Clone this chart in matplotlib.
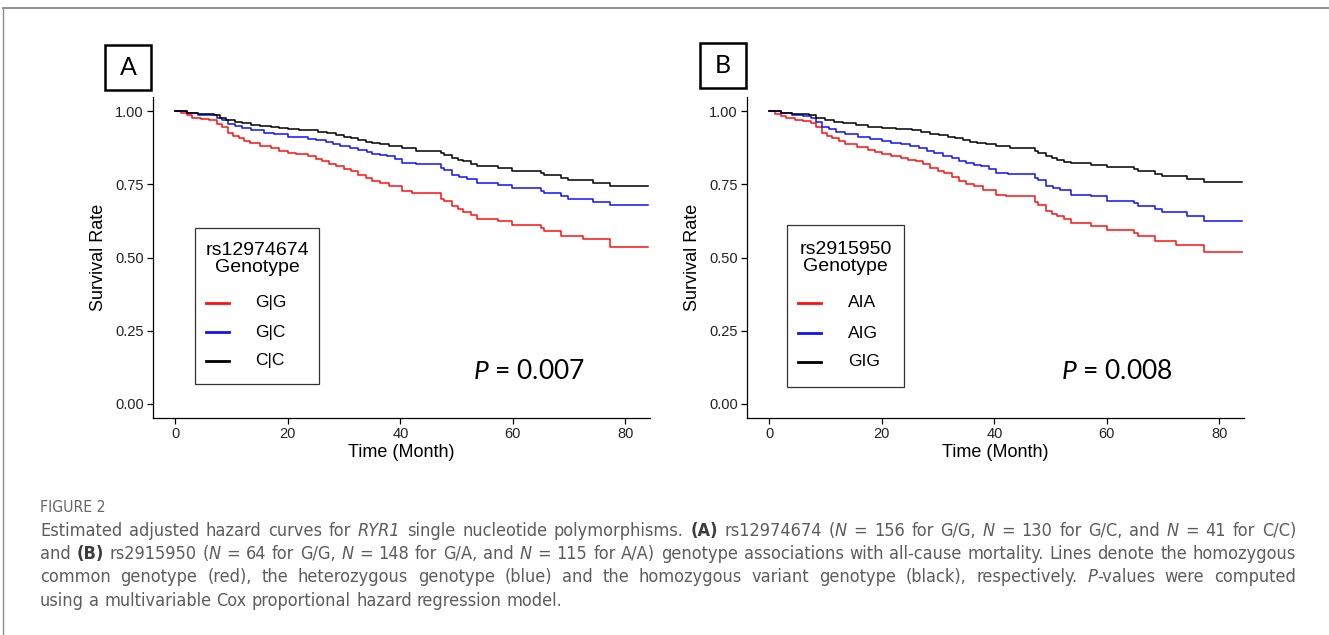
import re

import matplotlib
matplotlib.use('Agg')
import matplotlib.pyplot as plt
from matplotlib import font_manager as fm
from matplotlib.lines import Line2D
from matplotlib.patches import Rectangle

W, H = 1329, 635

# ---- data (months, adjusted survival) ----
a_red_t = [0, 1, 2, 3, 4.5, 6, 7.4, 8.2, 9.3, 10.3, 11.3, 12.2, 13.2, 15, 17, 18.5, 20, 21.5, 23.5, 25,
           26, 27.3, 28.6, 30, 31.2, 32.5, 33.8, 35, 36.4, 38, 40.2, 42, 47.3, 47.8, 49.2, 50.2, 51.2, 52.5,
           53.7, 57.3, 59.8, 65, 65.6, 68.5, 72.4, 77.2, 84]
a_red_s = [1.000, 0.992, 0.985, 0.978, 0.972, 0.968, 0.955, 0.945, 0.925, 0.915, 0.907, 0.898, 0.890, 0.882,
           0.873, 0.865, 0.858, 0.852, 0.845, 0.838, 0.831, 0.820, 0.811, 0.803, 0.794, 0.782, 0.771, 0.762,
           0.754, 0.745, 0.726, 0.720, 0.700, 0.692, 0.675, 0.665, 0.655, 0.645, 0.632, 0.624, 0.612, 0.600,
           0.590, 0.573, 0.563, 0.536, 0.536]
a_blue_t = [0, 2, 4, 6, 7.4, 8.2, 9.3, 10.5, 11.9, 13.5, 15.8, 17.5, 20, 21.5, 23.5, 25, 26.7, 28, 29.3, 31,
            32.5, 34, 35, 36.4, 37.6, 39, 40.2, 42.8, 47.3, 47.8, 49.2, 50.5, 51.8, 53.7, 57.3, 59.8, 65, 65.6,
            68.5, 69.8, 74.3, 77.2, 84]
a_blue_s = [1.000, 0.994, 0.988, 0.985, 0.978, 0.968, 0.955, 0.948, 0.941, 0.934, 0.926, 0.920, 0.913, 0.910,
            0.906, 0.901, 0.896, 0.888, 0.881, 0.874, 0.867, 0.860, 0.853, 0.849, 0.845, 0.835, 0.824, 0.820,
            0.806, 0.799, 0.782, 0.775, 0.768, 0.754, 0.746, 0.737, 0.728, 0.720, 0.711, 0.700, 0.689, 0.678,
            0.678]
a_black_t = [0, 2, 4, 6.8, 8, 9, 10.5, 11.9, 13.5, 15, 17, 18.5, 20, 22, 25.4, 27, 28.6, 30, 31.2, 32.5,
             33.8, 35, 36.4, 38, 40.2, 42.8, 47.3, 47.8, 49.2, 50.2, 51.2, 52.5, 53.7, 57.3, 59.8, 65, 65.6,
             68.5, 69.8, 74.3, 77.2, 84]
a_black_s = [1.000, 0.995, 0.990, 0.986, 0.978, 0.969, 0.963, 0.958, 0.952, 0.948, 0.944, 0.941, 0.939, 0.935,
             0.930, 0.924, 0.918, 0.912, 0.907, 0.901, 0.896, 0.891, 0.887, 0.880, 0.873, 0.865, 0.856, 0.850,
             0.839, 0.834, 0.828, 0.820, 0.811, 0.804, 0.796, 0.789, 0.782, 0.773, 0.763, 0.754, 0.743, 0.743]

b_red_t = [0, 1, 2, 3, 4.5, 6, 7.3, 8.2, 9.3, 10.3, 11.2, 12.3, 13.4, 15.5, 17.6, 18.8, 20, 21.7, 23.4, 24.7,
           26, 27.3, 28.6, 29.9, 31.1, 32.4, 33.7, 35, 36.3, 38, 40.2, 42.1, 47.2, 47.8, 49.2, 50.2, 51.1, 52.4,
           53.7, 57.2, 60.1, 64.9, 65.6, 68.5, 72.3, 77.2, 84]
b_red_s = [1.000, 0.991, 0.984, 0.976, 0.970, 0.965, 0.958, 0.945, 0.924, 0.915, 0.907, 0.897, 0.887, 0.877,
           0.867, 0.860, 0.854, 0.846, 0.839, 0.833, 0.828, 0.818, 0.807, 0.797, 0.788, 0.774, 0.760, 0.751,
           0.743, 0.730, 0.714, 0.709, 0.690, 0.680, 0.658, 0.650, 0.641, 0.630, 0.618, 0.609, 0.595, 0.584,
           0.573, 0.556, 0.544, 0.519, 0.519]
b_blue_t = [0, 2, 4, 6, 7.3, 8.2, 9.3, 10.5, 11.8, 13.5, 15.7, 17.8, 20, 21.7, 23.4, 25, 26.6, 28, 29.2, 30.8,
            32.4, 33.7, 35, 36.3, 37.6, 39, 40.2, 42.4, 47.2, 47.8, 49.2, 50.5, 51.7, 53.7, 57.2, 60.1, 64.9,
            65.6, 68.5, 69.8, 74.3, 77.2, 84]
b_blue_s = [1.000, 0.993, 0.987, 0.983, 0.975, 0.962, 0.946, 0.938, 0.930, 0.921, 0.913, 0.905, 0.898, 0.892,
            0.887, 0.880, 0.873, 0.864, 0.856, 0.848, 0.839, 0.830, 0.822, 0.817, 0.813, 0.802, 0.790, 0.785,
            0.772, 0.765, 0.745, 0.737, 0.729, 0.714, 0.709, 0.694, 0.685, 0.677, 0.667, 0.654, 0.641, 0.626,
            0.626]
b_black_t = [0, 2, 4, 7, 8.2, 9.9, 11.5, 13.1, 15.3, 17.6, 20, 22.5, 25.4, 27, 28.6, 30.2, 31.8, 33, 34.4,
             35.6, 36.9, 38.5, 40.2, 42.7, 47.2, 47.8, 49.2, 50.2, 51.1, 52.4, 53.7, 57.2, 60.1, 64.9, 65.6,
             68.5, 69.8, 74.3, 77.2, 84]
b_black_s = [1.000, 0.995, 0.991, 0.987, 0.978, 0.969, 0.963, 0.958, 0.952, 0.946, 0.941, 0.938, 0.935, 0.929,
             0.922, 0.917, 0.913, 0.907, 0.901, 0.896, 0.890, 0.886, 0.881, 0.873, 0.862, 0.856, 0.845, 0.839,
             0.833, 0.827, 0.822, 0.816, 0.808, 0.801, 0.794, 0.786, 0.777, 0.768, 0.757, 0.757]

colors = ['#ff1010', '#1010ff', 'black']
a_labels = ['G|G', 'G|C', 'C|C']
b_labels = ['AIA', 'AIG', 'GIG']
x_ticks = [0, 20, 40, 60, 80]
y_ticks = [0.00, 0.25, 0.50, 0.75, 1.00]

caption_head = 'FIGURE 2'
caption_lines = [
    'Estimated adjusted hazard curves for *RYR1* single nucleotide polymorphisms. **(A)** rs12974674 '
    '(*N* = 156 for G/G, *N* = 130 for G/C, and *N* = 41 for C/C)',
    'and **(B)** rs2915950 (*N* = 64 for G/G, *N* = 148 for G/A, and *N* = 115 for A/A) genotype '
    'associations with all-cause mortality. Lines denote the homozygous',
    'common genotype (red), the heterozygous genotype (blue) and the homozygous variant genotype (black), '
    'respectively. *P*-values were computed',
    'using a multivariable Cox proportional hazard regression model.',
]

plt.rcParams['font.family'] = ['Liberation Sans', 'DejaVu Sans']
plt.rcParams['mathtext.fontset'] = 'custom'
plt.rcParams['mathtext.it'] = 'Lato:italic'
plt.rcParams['mathtext.rm'] = 'Lato'


def fx(x):
    return x / W


def fy(y):
    return 1 - y / H


fig = plt.figure(figsize=(W / 100, H / 100), dpi=100)
tr = fig.transFigure

# page frame (top and left rule)
fig.add_artist(Line2D([fx(3), 1.0], [fy(8), fy(8)], transform=tr, color='#8a8a8a', lw=1.3))
fig.add_artist(Line2D([fx(3), fx(3)], [fy(8), 0.0], transform=tr, color='#8a8a8a', lw=1.0))


def panel(left, series, letter, leg_title, labels, pval, geo):
    ax = fig.add_axes([fx(left), fy(418), 497 / W, 321 / H])
    for (t, s), c in zip(series, colors):
        ax.step(t, s, where='post', color=c, lw=1.1)
    ax.set_xlim(-4.0, 84.4)
    ax.set_ylim(-0.048, 1.048)
    ax.set_xticks(x_ticks)
    ax.set_yticks(y_ticks)
    ax.set_yticklabels([f'{v:.2f}' for v in y_ticks])
    for sp in ['top', 'right']:
        ax.spines[sp].set_visible(False)
    for sp in ['left', 'bottom']:
        ax.spines[sp].set_linewidth(0.9)
    ax.tick_params(length=4, width=0.9, labelsize=10.5, labelcolor='#222222', pad=2.5)
    ax.set_xlabel('Time (Month)', fontsize=13, labelpad=2)
    ax.set_ylabel('Survival Rate', fontsize=13, labelpad=6)

    # panel letter box
    bx0, by0, bx1, by1 = geo['letter_box']
    fig.add_artist(Rectangle((fx(bx0), fy(by1)), (bx1 - bx0) / W, (by1 - by0) / H,
                             transform=tr, fill=False, lw=1.8, ec='black'))
    fig.text(fx((bx0 + bx1) / 2), fy((by0 + by1) / 2), letter, transform=tr, ha='center',
             va='center', fontsize=18, family='Lato')

    # legend drawn by hand to mimic the ggplot key
    lx0, ly0, lx1, ly1 = geo['legend_box']
    fig.add_artist(Rectangle((fx(lx0), fy(ly1)), (lx1 - lx0) / W, (ly1 - ly0) / H,
                             transform=tr, fill=False, lw=0.9, ec='#333333'))
    fig.text(fx((lx0 + lx1) / 2), fy(geo['title_y']), leg_title, transform=tr, ha='center',
             va='center', fontsize=14, linespacing=1.05, multialignment='center')
    hx0, hx1 = geo['handle_x']
    for yy, lab, c in zip(geo['rows_y'], labels, colors):
        fig.add_artist(Line2D([fx(hx0), fx(hx1)], [fy(yy), fy(yy)], transform=tr, color=c, lw=2.0))
        fig.text(fx(geo['label_x']), fy(yy), lab, transform=tr, ha='left', va='center', fontsize=12.5)

    ax.text(geo['p_x'], 0.11, pval, transform=ax.transData, ha='left', va='center',
            fontsize=19, family='Lato')
    return ax


panel(153, [(a_red_t, a_red_s), (a_blue_t, a_blue_s), (a_black_t, a_black_s)], 'A',
      'rs12974674\nGenotype', a_labels, r'$P$ = 0.007',
      dict(letter_box=(105, 45, 151, 90), legend_box=(195, 228, 319, 384), title_y=259,
           rows_y=[303, 332, 361], handle_x=(206, 229), label_x=255, p_x=53.0))
panel(747, [(b_red_t, b_red_s), (b_blue_t, b_blue_s), (b_black_t, b_black_s)], 'B',
      'rs2915950\nGenotype', b_labels, r'$P$ = 0.008',
      dict(letter_box=(700, 43, 746, 88), legend_box=(787, 225, 904, 387), title_y=258,
           rows_y=[303, 333, 362], handle_x=(798, 821), label_x=848, p_x=51.8))

# ---- caption, justified by hand ----
renderer = fig.canvas.get_renderer()
CAP_COLOR = '#5c5c5c'

# prefer a narrow face (the journal font is condensed); fall back to Lato
cap_family, cap_stretch = 'Lato', 'normal'
for f in fm.fontManager.ttflist:
    if f.style == 'normal' and ('Narrow' in f.name or 'Condensed' in f.name or
                                f.stretch in ('condensed', 'semi-condensed')):
        cap_family, cap_stretch = f.name, f.stretch
        break


def parse_word(word):
    out = []
    for p in re.split(r'(\*\*[^*]+\*\*|\*[^*]+\*)', word):
        if not p:
            continue
        if p.startswith('**'):
            out.append((p[2:-2], 'bold'))
        elif p.startswith('*'):
            out.append((p[1:-1], 'italic'))
        else:
            out.append((p, 'normal'))
    return out


def piece(text, style, size):
    kw = dict(fontsize=size, family=cap_family, stretch=cap_stretch, color=CAP_COLOR,
              ha='left', va='baseline')
    if style == 'italic':
        kw['style'] = 'italic'
    elif style == 'bold':
        kw['weight'] = 'bold'
        kw['color'] = '#3c3c3c'
    return fig.text(0, 0, text, transform=tr, **kw)


def wid(t):
    return t.get_window_extent(renderer).width


def space_width(size):
    a = piece('a a', 'normal', size)
    b = piece('aa', 'normal', size)
    w = wid(a) - wid(b)
    a.remove()
    b.remove()
    return w


x_left, x_right = 40, 1296

# size so that the longest line fills the measure with ordinary spacing
probe_size = 10
sw = space_width(probe_size)
natural = []
for line in caption_lines:
    ts = [piece(txt, st, probe_size) for w in line.split(' ') for txt, st in parse_word(w)]
    natural.append(sum(wid(t) for t in ts) + sw * (len(line.split(' ')) - 1))
    for t in ts:
        t.remove()
cap_size = probe_size * 0.985 * (x_right - x_left) / max(natural)
space_w = space_width(cap_size)

fig.text(fx(40), fy(512), caption_head, transform=tr, ha='left', va='baseline', fontsize=cap_size * 0.88,
         family=cap_family, stretch=cap_stretch, color='#666666')

base_y = [535.5, 559, 582.5, 606]
for i, line in enumerate(caption_lines):
    words = [[piece(txt, st, cap_size) for txt, st in parse_word(w)] for w in line.split(' ')]
    widths = [[wid(t) for t in w] for w in words]
    total = sum(sum(w) for w in widths)
    last = i == len(caption_lines) - 1
    gap = space_w if last else (x_right - x_left - total) / (len(words) - 1)
    x = x_left
    for w, ws in zip(words, widths):
        for t, tw in zip(w, ws):
            t.set_position((fx(x), fy(base_y[i])))
            x += tw
        x += gap

fig.savefig('out.png', dpi=100)
